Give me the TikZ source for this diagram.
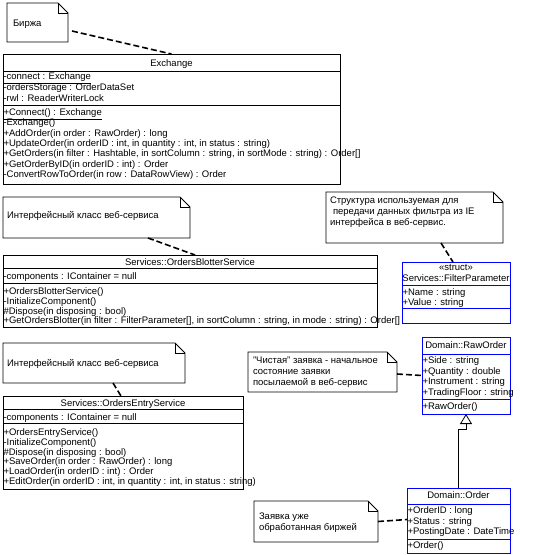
\documentclass[tikz,border=0pt]{standalone}
\usepackage{fontspec}
\setmainfont{Liberation Sans}
\usetikzlibrary{arrows.meta}
\definecolor{umlblue}{RGB}{0,0,255}
\newcommand\umlfont{\fontsize{9.5}{10}\selectfont}
\newcommand\hsep[3][black]{\draw[sepline,draw=#1] ([yshift=-#3pt]#2.north west) -- ([yshift=-#3pt]#2.north east);}
\newcommand\dognote[1]{%
  \draw[noteline] (#1.north west) -- ([xshift=-10pt]#1.north east) -- ([yshift=-10pt]#1.north east) -- (#1.south east) -- (#1.south west) -- cycle;
  \draw[noteline] ([xshift=-10pt]#1.north east) |- ([yshift=-10pt]#1.north east);}
\newcommand\lines[5]{% name prefix, x, first baseline, step, list
  \foreach \t [count=\i from 0] in {#5} \node[txt] (#1\i) at (#2,#3+#4*\i) {\t};}
\begin{document}
\begin{tikzpicture}[x=1pt,y=-1pt,
  txt/.style={anchor=base west, inner sep=0pt, outer sep=0pt, font=\umlfont},
  ttl/.style={anchor=base, inner sep=0pt, outer sep=0pt, font=\umlfont},
  cls/.style={draw, line width=0.8pt, anchor=north west, inner sep=0pt, outer sep=0pt},
  bluecls/.style={cls, draw=umlblue},
  sepline/.style={line width=0.8pt},
  notebox/.style={anchor=north west, inner sep=0pt, outer sep=0pt},
  noteline/.style={line width=0.8pt},
  link/.style={line width=1.6pt, dash pattern=on 6pt off 3pt},
  gen/.style={line width=0.8pt, -{Triangle[open,length=10pt,width=12pt]}}
]
\useasboundingbox (0,0) rectangle (552,555);

% ---------- notes ----------
\node[notebox, minimum width=61pt, minimum height=39pt] (birja) at (7,3) {};
\dognote{birja}
\node[txt] (birjat) at (13,26) {Биржа};

\node[notebox, minimum width=187pt, minimum height=41pt] (n1) at (3,197) {};
\dognote{n1}
\node[txt] (n1t) at (7,218.5) {Интерфейсный класс веб-сервиса};

\node[notebox, minimum width=182pt, minimum height=40pt] (n2) at (3,343) {};
\dognote{n2}
\node[txt] (n2t) at (7,366.5) {Интерфейсный класс веб-сервиса};

\node[notebox, minimum width=177pt, minimum height=51pt] (nf) at (326,192) {};
\dognote{nf}
\lines{nft}{330}{203.5}{11}{{Структура используемая для},{\hspace{3pt}передачи данных фильтра из IE},{интерфейса в веб-сервис.}}

\node[notebox, minimum width=149pt, minimum height=40pt] (nr) at (248,352) {};
\dognote{nr}
\lines{nrt}{253}{363.5}{11}{{"Чистая" заявка - начальное},{состояние заявки},{посылаемой в веб-сервис}}

\node[notebox, minimum width=124pt, minimum height=41pt] (no) at (254,501) {};
\dognote{no}
\lines{not}{259}{519.5}{11}{{Заявка уже},{обработанная биржей}}

% ---------- Exchange ----------
\node[cls, minimum width=337pt, minimum height=130pt] (exch) at (3,54) {};
\hsep{exch}{17}
\hsep{exch}{51}
\node[ttl] (exchT) at (171.5,66) {Exchange};
\lines{exa}{3.5}{79.5}{10.8}{{\underline{-connect : Exchange}},{-ordersStorage : OrderDataSet},{-rwl : ReaderWriterLock}}
\lines{exm}{3.5}{115.5}{10.3}{{\underline{+Connect() : Exchange}},{-Exchange()},{+AddOrder(in order : RawOrder) : long},{+UpdateOrder(in orderID : int, in quantity : int, in status : string)},{+GetOrders(in filter : Hashtable, in sortColumn : string, in sortMode : string) : Order[]},{+GetOrderByID(in orderID : int) : Order},{-ConvertRowToOrder(in row : DataRowView) : Order}}

% ---------- OrdersBlotterService ----------
\node[cls, minimum width=374pt, minimum height=72pt] (blot) at (3,255) {};
\hsep{blot}{13}
\hsep{blot}{28}
\node[ttl] (blotT) at (190,265.5) {Services::OrdersBlotterService};
\node[txt] (blota) at (3.5,279.5) {-components : IContainer = null};
\lines{blm}{3.5}{294.5}{9.8}{{+OrdersBlotterService()},{-InitializeComponent()},{\#Dispose(in disposing : bool)},{+GetOrdersBlotter(in filter : FilterParameter[], in sortColumn : string, in mode : string) : Order[]}}

% ---------- OrdersEntryService ----------
\node[cls, minimum width=240pt, minimum height=93pt] (entry) at (3,396) {};
\hsep{entry}{13}
\hsep{entry}{27}
\node[ttl] (entryT) at (123,406) {Services::OrdersEntryService};
\node[txt] (entrya) at (3.5,420.5) {-components : IContainer = null};
\lines{enm}{3.5}{435.5}{9.8}{{+OrdersEntryService()},{-InitializeComponent()},{\#Dispose(in disposing : bool)},{+SaveOrder(in order : RawOrder) : long},{+LoadOrder(in orderID : int) : Order},{+EditOrder(in orderID : int, in quantity : int, in status : string)}}

% ---------- FilterParameter ----------
\node[bluecls, minimum width=108pt, minimum height=61pt] (filt) at (402,262) {};
\hsep[umlblue]{filt}{23}
\hsep[umlblue]{filt}{46}
\node[ttl] (filtS) at (456,270.5) {«struct»};
\node[ttl] (filtT) at (456,281.5) {Services::FilterParameter};
\lines{fia}{402.5}{295.5}{10}{{+Name : string},{+Value : string}}

% ---------- RawOrder ----------
\node[bluecls, minimum width=88pt, minimum height=77pt] (raw) at (422,337) {};
\hsep[umlblue]{raw}{17}
\hsep[umlblue]{raw}{62}
\node[ttl] (rawT) at (466,348.5) {Domain::RawOrder};
\lines{raa}{422.5}{363.5}{10.7}{{+Side : string},{+Quantity : double},{+Instrument : string},{+TradingFloor : string}}
\node[txt] (ram) at (422.5,409.5) {+RawOrder()};

% ---------- Order ----------
\node[bluecls, minimum width=103pt, minimum height=65pt] (order) at (407,488) {};
\hsep[umlblue]{order}{16}
\hsep[umlblue]{order}{51}
\node[ttl] (orderT) at (458.5,498.5) {Domain::Order};
\lines{ora}{407.5}{513.5}{10.5}{{+OrderID : long},{+Status : string},{+PostingDate : DateTime}}
\node[txt] (orm) at (407.5,548.5) {+Order()};

% ---------- connectors ----------
\draw[link] ([xshift=4pt,yshift=-8.5pt]birja.east) -- (exch.north);
\draw[link] ([xshift=51.5pt]n1.south) -- ([xshift=5pt]blot.north);
\draw[link] ([xshift=19pt]n2.south) -- ([xshift=-2pt]entry.north);
\draw[link] ([xshift=26.5pt]nf.south) -- ([xshift=-3pt]filt.north);
\draw[link] ([yshift=-2pt]nr.east) -- (raw.west);
\draw[link] (no.east) -- ([yshift=1pt]order.west);
\draw[gen] (order.north) -- ++(0,-59) -| (raw.south);
\end{tikzpicture}
\end{document}
